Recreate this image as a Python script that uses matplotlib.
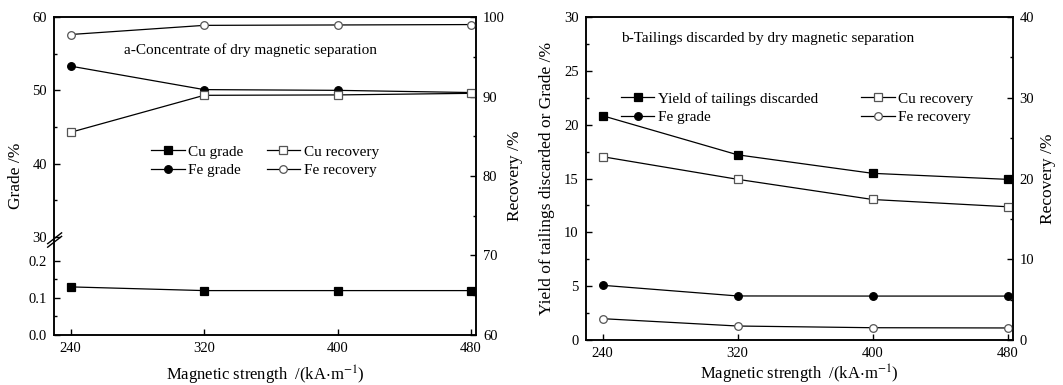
import numpy as np
import matplotlib
matplotlib.use("Agg")
import matplotlib.pyplot as plt
from matplotlib.ticker import FixedLocator

plt.rcParams['font.family'] = ['Liberation Serif', 'DejaVu Serif']
plt.rcParams['mathtext.fontset'] = 'stix'

# data
field = [240, 320, 400, 480]

# a - concentrate
a_cu_grade = [0.13, 0.12, 0.12, 0.12]
a_fe_grade = [53.3, 50.1, 50.0, 49.7]
a_cu_recovery = [85.5, 90.15, 90.2, 90.4]
a_fe_recovery = [97.8, 98.95, 99.0, 99.05]

# b - tailings
b_yield = [20.83, 17.2, 15.48, 14.92]
b_fe_grade = [5.08, 4.09, 4.08, 4.08]
b_cu_recovery = [22.7, 19.9, 17.4, 16.5]
b_fe_recovery = [2.64, 1.73, 1.52, 1.49]

xlabel = r'Magnetic strength  /(kA$\cdot$m$^{-1}$)'

# broken grade axis: 0-0.25 below, 30-60 above
brk_val = [0, 0.25, 30, 60]
brk_pos = [0, 92.5, 98, 318]


def fwd(v):
    return np.interp(v, brk_val, brk_pos)


def inv(p):
    return np.interp(p, brk_pos, brk_val)


line_kw = dict(color='black', lw=0.9, markersize=5.5, markeredgewidth=0.9)


def style_axes(ax, ax2, pad):
    for a in (ax, ax2):
        a.tick_params(direction='in', which='both', labelsize=10.5, pad=5)
        a.tick_params(which='major', length=4.5, width=1)
        a.tick_params(which='minor', length=2.5, width=1)
        for s in a.spines.values():
            s.set_linewidth(1.1)
    ax.set_xlim(230, 483)
    ax.set_xticks(field)
    ax.set_xlabel(xlabel, fontsize=12, labelpad=pad)


fig = plt.figure(figsize=(10.63, 3.85), dpi=100)

# ---- panel a ----
ax1 = fig.add_axes([0.0508, 0.1299, 0.397, 0.8259])
ax1r = ax1.twinx()
ax1.set_yscale('function', functions=(fwd, inv))
ax1.set_ylim(0, 60)
ax1.yaxis.set_major_locator(FixedLocator([0, 0.1, 0.2, 30, 40, 50, 60]))
ax1.yaxis.set_minor_locator(FixedLocator([0.05, 0.15, 35, 45, 55]))
ax1.set_yticklabels(['0.0', '0.1', '0.2', '30', '40', '50', '60'])
ax1r.set_ylim(60, 100)
ax1r.set_yticks([60, 70, 80, 90, 100])
ax1r.set_yticks([65, 75, 85, 95], minor=True)

h1, = ax1.plot(field, a_cu_grade, marker='s', mfc='black', mec='black', **line_kw)
h2, = ax1.plot(field, a_fe_grade, marker='o', mfc='black', mec='black', **line_kw)
h3, = ax1r.plot(field, a_cu_recovery, marker='s', mfc='white', mec='#555555', **line_kw)
h4, = ax1r.plot(field, a_fe_recovery, marker='o', mfc='white', mec='#555555', **line_kw)
for h in (h1, h2, h3, h4):
    h.set_clip_on(False)

style_axes(ax1, ax1r, 6.5)
ax1.set_ylabel('Grade /%', fontsize=12.5)
ax1.yaxis.set_label_coords(-0.071, 0.5)
ax1r.set_ylabel('Recovery /%', fontsize=12.5)
ax1r.yaxis.set_label_coords(1.073, 0.5)

# break marks on the grade axis
ybrk = fwd(30) / fwd(60) - 0.004
for dy in (-0.011, 0.0):
    ax1.plot([-0.015, 0.018], [ybrk - 0.017 + dy, ybrk + 0.017 + dy], transform=ax1.transAxes,
             color='black', lw=1.0, clip_on=False)

ax1.text(0.466, 0.895, 'a-Concentrate of dry magnetic separation', transform=ax1.transAxes,
         ha='center', va='center', fontsize=11)
fig.legend([h1, h2, h3, h4], ['Cu grade', 'Fe grade', 'Cu recovery', 'Fe recovery'],
           ncol=2, loc='upper left', bbox_to_anchor=(151 / 1063, 1 - 145 / 385),
           frameon=False, fontsize=11, handlelength=2.2, handletextpad=0.25,
           columnspacing=1.5, labelspacing=0.3, borderpad=0, borderaxespad=0)

# ---- panel b ----
ax2 = fig.add_axes([0.551, 0.1169, 0.4017, 0.8389])
ax2r = ax2.twinx()
ax2.set_ylim(0, 30)
ax2.set_yticks([0, 5, 10, 15, 20, 25, 30])
ax2.set_yticks(np.arange(2.5, 30, 5), minor=True)
ax2r.set_ylim(0, 40)
ax2r.set_yticks([0, 10, 20, 30, 40])
ax2r.set_yticks([5, 15, 25, 35], minor=True)

g1, = ax2.plot(field, b_yield, marker='s', mfc='black', mec='black', **line_kw)
g2, = ax2.plot(field, b_fe_grade, marker='o', mfc='black', mec='black', **line_kw)
g3, = ax2r.plot(field, b_cu_recovery, marker='s', mfc='white', mec='#555555', **line_kw)
g4, = ax2r.plot(field, b_fe_recovery, marker='o', mfc='white', mec='#555555', **line_kw)
for h in (g1, g2, g3, g4):
    h.set_clip_on(False)

style_axes(ax2, ax2r, 2.0)
ax2.set_ylabel('Yield of tailings discarded or Grade /%', fontsize=12.5)
ax2.yaxis.set_label_coords(-0.072, 0.5)
ax2r.set_ylabel('Recovery /%', fontsize=12.5)
ax2r.yaxis.set_label_coords(1.064, 0.5)

ax2.text(0.083, 0.935, 'b-Tailings discarded by dry magnetic separation', transform=ax2.transAxes,
         ha='left', va='center', fontsize=11)
fig.legend([g1, g2, g3, g4], ['Yield of tailings discarded', 'Fe grade', 'Cu recovery', 'Fe recovery'],
           ncol=2, loc='upper left', bbox_to_anchor=(620.7 / 1063, 1 - 92 / 385),
           frameon=False, fontsize=11, handlelength=2.2, handletextpad=0.25,
           columnspacing=2.8, labelspacing=0.3, borderpad=0, borderaxespad=0)

fig.savefig('out.png', dpi=100)
